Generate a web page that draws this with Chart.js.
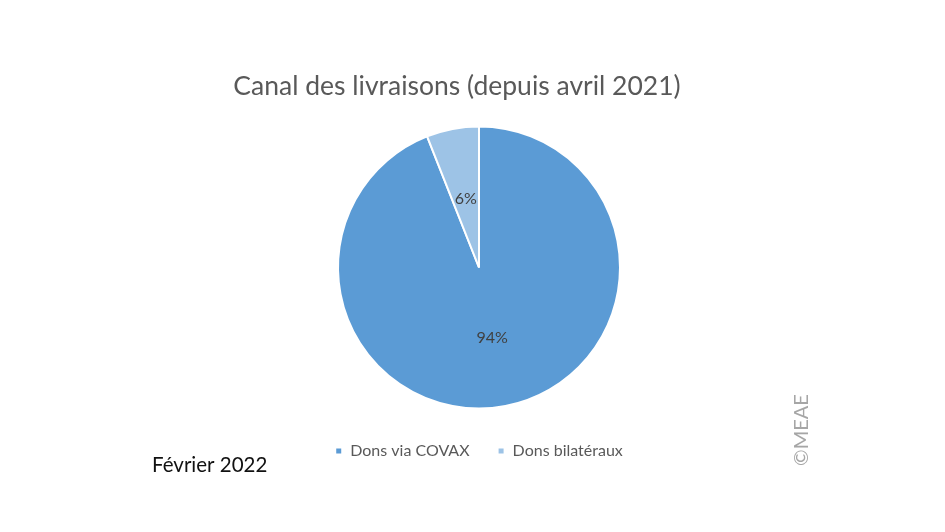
<!DOCTYPE html>
<html>
<head>
<meta charset="utf-8">
<script src="https://cdn.jsdelivr.net/npm/chart.js@4"></script>
<style>
  html, body { margin: 0; padding: 0; background: #fff; }
  #wrap { width: 945px; height: 532px; position: relative; }
</style>
</head>
<body>
<div id="wrap"><canvas id="pie-graph" width="945" height="532"></canvas></div>
<script>
var categories = ['Dons via COVAX', 'Dons bilatéraux'];
var shares = [94, 6];
var sliceColors = ['#5B9BD5', '#9DC3E6'];
var titleText = 'Canal des livraisons (depuis avril 2021)';

// title, percent labels in the middle of each slice, and the side notes
var extraText = {
    id: 'extraText',
    afterDatasetsDraw: function (chart) {
        var ctx = chart.ctx;
        var meta = chart.getDatasetMeta(0);
        ctx.save();
        ctx.font = '16px Lato';
        ctx.fillStyle = '#404040';
        ctx.textAlign = 'center';
        ctx.textBaseline = 'middle';
        meta.data.forEach(function (arc, i) {
            var p = arc.tooltipPosition();
            ctx.fillText(shares[i] + '%', p.x, p.y + 1);
        });

        ctx.font = '26.5px Lato';
        ctx.fillStyle = '#595959';
        ctx.fillText(titleText, 457, 86);

        ctx.font = '20.5px Lato';
        ctx.fillStyle = '#111';
        ctx.textAlign = 'left';
        ctx.textBaseline = 'alphabetic';
        ctx.fillText('Février 2022', 152, 472);

        ctx.translate(808, 430);
        ctx.rotate(-Math.PI / 2);
        ctx.font = '20px Lato';
        ctx.fillStyle = '#a6a6a6';
        ctx.textAlign = 'center';
        ctx.fillText('©MEAE', 0, 0);
        ctx.restore();
    }
};

var ctx = document.getElementById('pie-graph').getContext('2d');
var myChart = new Chart(ctx, {
    type: 'pie',
    data: {
        labels: categories,
        datasets: [{
            data: shares,
            backgroundColor: sliceColors,
            borderColor: '#ffffff',
            borderWidth: 2,
            hoverOffset: 0
        }]
    },
    options: {
        responsive: false,
        animation: false,
        radius: 141,
        layout: { padding: { top: 120, bottom: 63, left: 13, right: 0 } },
        plugins: {
            title: { display: false },
            legend: {
                position: 'bottom',
                labels: {
                    color: '#595959',
                    font: { family: 'Lato', size: 16 },
                    usePointStyle: true,
                    pointStyle: 'rect',
                    boxWidth: 7,
                    boxHeight: 7,
                    padding: 28
                }
            },
            tooltip: { enabled: false }
        }
    },
    plugins: [extraText]
});
</script>
</body>
</html>
